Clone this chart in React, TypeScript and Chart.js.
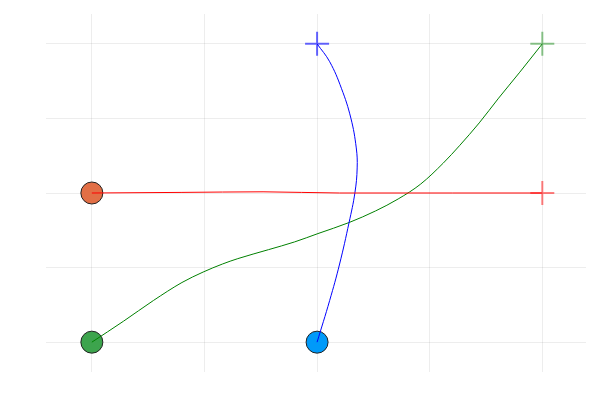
import React, { useEffect, useRef } from "react";
import { Chart, registerables } from "chart.js";

Chart.register(...registerables);

const tickValues = [0, 0.25, 0.5, 0.75, 1];

const redX = [0, 0.2, 0.38, 0.55, 0.8, 1];
const redY = [0.5, 0.502, 0.504, 0.5, 0.5, 0.5];

const blueX = [0.5, 0.528, 0.55, 0.571, 0.584, 0.589, 0.587, 0.575, 0.554, 0.528, 0.5];
const blueY = [0, 0.14, 0.262, 0.401, 0.501, 0.584, 0.651, 0.751, 0.851, 0.94, 1];

const greenX = [0, 0.07, 0.137, 0.2, 0.247, 0.29, 0.324, 0.392, 0.45, 0.502, 0.571, 0.63, 0.68, 0.73, 0.78, 0.817, 0.86, 0.903, 0.95, 1];
const greenY = [0, 0.07, 0.14, 0.2, 0.235, 0.262, 0.28, 0.31, 0.336, 0.364, 0.401, 0.44, 0.48, 0.53, 0.6, 0.66, 0.735, 0.818, 0.905, 1];

const startX = [0, 0.5, 0];
const startY = [0.5, 0, 0];
const endX = [1, 0.5, 1];
const endY = [0.5, 1, 1];

const pts = (xs: number[], ys: number[]) => xs.map((x, i) => ({ x, y: ys[i] }));

export default function App() {
  const ref = useRef<HTMLCanvasElement | null>(null);
  useEffect(() => {
    if (!ref.current) return;
    const lineDs = (xs: number[], ys: number[], color: string, mono: boolean) => ({
      data: pts(xs, ys),
      showLine: true,
      borderColor: color,
      borderWidth: 1,
      pointRadius: 0,
      tension: 0.4,
      cubicInterpolationMode: mono ? "monotone" : "default",
      order: 2,
    });
    const chart = new Chart(ref.current, {
      type: "scatter",
      data: {
        datasets: [
          {
            data: pts(startX, startY),
            pointStyle: "circle",
            pointRadius: 11,
            backgroundColor: ["#e26f46", "#009af9", "#3da44d"],
            borderColor: "#222222",
            borderWidth: 1,
            order: 3,
          },
          lineDs(redX, redY, "#ff0000", true),
          lineDs(blueX, blueY, "#0000ff", false),
          lineDs(greenX, greenY, "#008000", true),
          {
            data: pts(endX, endY),
            pointStyle: "cross",
            pointRadius: 12,
            borderColor: ["rgba(255,0,0,0.5)", "rgba(0,0,255,0.6)", "rgba(0,128,0,0.45)"],
            borderWidth: 2,
            order: 1,
          },
        ],
      },
      options: {
        animation: false,
        responsive: false,
        layout: { padding: { left: 46, right: 7, top: 12, bottom: 28 } },
        plugins: { legend: { display: false }, tooltip: { enabled: false } },
        scales: {
          x: {
            type: "linear",
            min: -0.1018,
            max: 1.097,
            afterBuildTicks: (axis: any) => {
              axis.ticks = tickValues.map((v) => ({ value: v }));
            },
            ticks: { display: false },
            border: { display: false },
            grid: { color: "rgba(0,0,0,0.07)", drawTicks: false, lineWidth: 1 },
          },
          y: {
            type: "linear",
            min: -0.1,
            max: 1.1,
            afterBuildTicks: (axis: any) => {
              axis.ticks = tickValues.map((v) => ({ value: v }));
            },
            ticks: { display: false },
            border: { display: false },
            grid: { color: "rgba(0,0,0,0.07)", drawTicks: false, lineWidth: 1 },
          },
        },
      },
    });
    return () => chart.destroy();
  }, []);
  return (
    <div style={{ position: "absolute", left: 0, top: 0, width: 600, height: 400, background: "#fff" }}>
      <canvas ref={ref} width={600} height={400} />
    </div>
  );
}
